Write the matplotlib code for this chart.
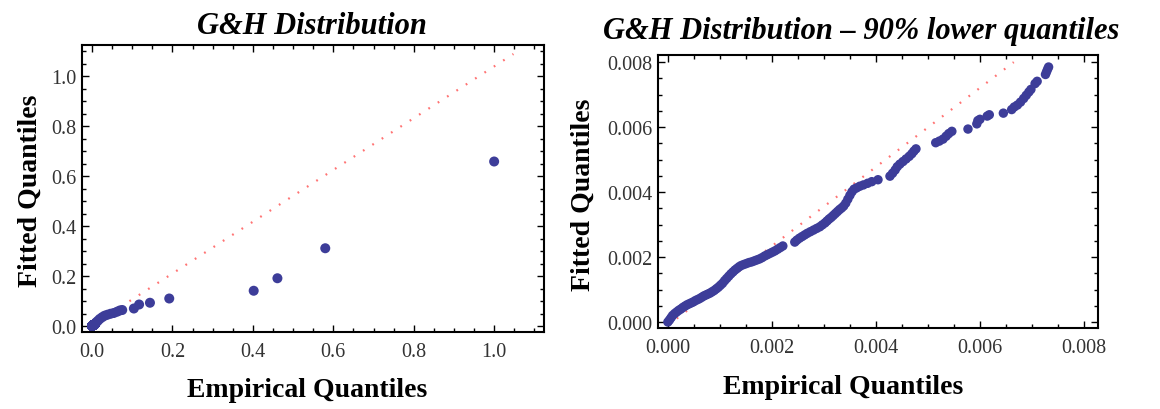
import numpy as np
import matplotlib.pyplot as plt
from matplotlib.ticker import MultipleLocator, FormatStrFormatter

# lower 90% quantiles (right panel)
emp_low = [0.00000, 0.00003, 0.00006, 0.00009, 0.00013, 0.00017, 0.00021, 0.00025, 0.00029, 0.00033,
           0.00037, 0.00041, 0.00045, 0.00049, 0.00053, 0.00057, 0.00061, 0.00065, 0.00069, 0.00073,
           0.00077, 0.00081, 0.00085, 0.00089, 0.00093, 0.00097, 0.00101, 0.00105, 0.00109, 0.00113,
           0.00117, 0.00121, 0.00125, 0.00129, 0.00133, 0.00137, 0.00141, 0.00146, 0.00151, 0.00156,
           0.00161, 0.00166, 0.00171, 0.00176, 0.00181, 0.00186, 0.00191, 0.00196, 0.00201, 0.00206,
           0.00211, 0.00216, 0.00221,
           0.00244, 0.00248, 0.00253, 0.00258, 0.00263, 0.00268, 0.00274, 0.00280, 0.00286, 0.00292,
           0.00297, 0.00302, 0.00306, 0.00310, 0.00314, 0.00318, 0.00322, 0.00326, 0.00330, 0.00334,
           0.00338, 0.00342, 0.00346, 0.00350, 0.00354, 0.00358, 0.00363, 0.00369, 0.00376, 0.00384,
           0.00392, 0.00404,
           0.00427, 0.00432, 0.00437, 0.00441, 0.00446, 0.00452, 0.00458, 0.00464, 0.00469, 0.00473,
           0.00477,
           0.00515, 0.00522, 0.00529, 0.00535, 0.00540, 0.00546,
           0.00577, 0.00594, 0.00596, 0.00600, 0.00614, 0.00618, 0.00645, 0.00661, 0.00666, 0.00672,
           0.00678, 0.00684, 0.00689, 0.00694, 0.00698, 0.00706, 0.00710, 0.00726, 0.00728, 0.00730,
           0.00732]
fit_low = [0.00000, 0.00006, 0.00013, 0.00020, 0.00026, 0.00031, 0.00036, 0.00040, 0.00045, 0.00049,
           0.00053, 0.00056, 0.00059, 0.00062, 0.00066, 0.00069, 0.00072, 0.00076, 0.00080, 0.00083,
           0.00086, 0.00089, 0.00093, 0.00097, 0.00102, 0.00107, 0.00113, 0.00119, 0.00127, 0.00134,
           0.00141, 0.00148, 0.00154, 0.00160, 0.00165, 0.00170, 0.00174, 0.00177, 0.00180, 0.00183,
           0.00185, 0.00188, 0.00191, 0.00194, 0.00198, 0.00203, 0.00207, 0.00211, 0.00215, 0.00219,
           0.00224, 0.00229, 0.00234,
           0.00246, 0.00252, 0.00258, 0.00263, 0.00268, 0.00273, 0.00278, 0.00283, 0.00288, 0.00293,
           0.00299, 0.00305, 0.00311, 0.00317, 0.00322, 0.00328, 0.00334, 0.00340, 0.00346, 0.00351,
           0.00357, 0.00366, 0.00378, 0.00390, 0.00401, 0.00409, 0.00413, 0.00418, 0.00422, 0.00427,
           0.00432, 0.00438,
           0.00449, 0.00458, 0.00468, 0.00478, 0.00486, 0.00494, 0.00502, 0.00510, 0.00518, 0.00526,
           0.00533,
           0.00552, 0.00557, 0.00563, 0.00572, 0.00580, 0.00587,
           0.00594, 0.00610, 0.00620, 0.00624, 0.00634, 0.00638, 0.00643, 0.00654, 0.00662, 0.00668,
           0.00677, 0.00688, 0.00698, 0.00708, 0.00716, 0.00734, 0.00741, 0.00762, 0.00770, 0.00778,
           0.00785]

# upper 10% tail (only in the left panel)
emp_tail = [0.010, 0.014, 0.019, 0.025, 0.031, 0.038, 0.046, 0.054, 0.062, 0.069, 0.075,
            0.104, 0.117, 0.144, 0.192, 0.402, 0.461, 0.580, 1.000]
fit_tail = [0.014, 0.020, 0.028, 0.035, 0.041, 0.045, 0.049, 0.052, 0.057, 0.062, 0.064,
            0.070, 0.086, 0.093, 0.110, 0.141, 0.191, 0.311, 0.658]

# reference lines
ref_left_x = [0.0, 1.048]
ref_left_y = [0.003, 1.088]
ref_right_x = [0.0, 0.00665]
ref_right_y = [-0.0001, 0.0080]

titles = ["G&H Distribution", "G&H Distribution \u2013 90% lower quantiles"]

pt_color = "#3d3d99"
line_color = "#ff5050"
serif = ["Liberation Serif", "DejaVu Serif"]

fig = plt.figure(figsize=(11.6, 4.1), dpi=100)
W, H = 1160, 410

def px_axes(l, t, r, b):
    return fig.add_axes([l / W, 1 - b / H, (r - l) / W, (b - t) / H])

ax1 = px_axes(82, 46, 544, 333)
ax2 = px_axes(658, 56, 1098, 329)

emp_all = emp_low + emp_tail
fit_all = fit_low + fit_tail

ax1.plot(ref_left_x, ref_left_y, color=line_color, lw=1.6, ls=(0, (0.8, 4.2)), alpha=0.8, zorder=1)
ax1.scatter(emp_all, fit_all, s=52, color=pt_color, edgecolors="none", zorder=2)
ax2.plot(ref_right_x, ref_right_y, color=line_color, lw=1.6, ls=(0, (0.8, 4.2)), alpha=0.8, zorder=1)
ax2.scatter(emp_low, fit_low, s=46, color=pt_color, edgecolors="none", zorder=2)

ax1.set_xlim(-0.025, 1.124)
ax1.set_ylim(-0.024, 1.124)
ax2.set_xlim(-0.00019, 0.00827)
ax2.set_ylim(-0.000185, 0.00822)

for ax, major, minor, fmt in [(ax1, 0.2, 0.05, "%.1f"), (ax2, 0.002, 0.0005, "%.3f")]:
    ax.xaxis.set_major_locator(MultipleLocator(major))
    ax.yaxis.set_major_locator(MultipleLocator(major))
    ax.xaxis.set_minor_locator(MultipleLocator(minor))
    ax.yaxis.set_minor_locator(MultipleLocator(minor))
    ax.xaxis.set_major_formatter(FormatStrFormatter(fmt))
    ax.yaxis.set_major_formatter(FormatStrFormatter(fmt))
    ax.tick_params(which="both", direction="in", top=True, right=True, width=1.0, color="black")
    ax.tick_params(which="major", length=5)
    ax.tick_params(which="minor", length=3)
    ax.tick_params(axis="x", pad=7)
    ax.tick_params(axis="y", pad=4)
    for lab in ax.get_xticklabels() + ax.get_yticklabels():
        lab.set_fontfamily(serif)
        lab.set_fontsize(14.5)
        lab.set_color("#333333")
    for sp in ax.spines.values():
        sp.set_linewidth(1.5)

fig.text(312 / W, 1 - 27 / H, titles[0], ha="center", va="center", family=serif,
         fontsize=22, fontweight="bold", fontstyle="italic")
fig.text(861 / W, 1 - 32 / H, titles[1], ha="center", va="center", family=serif,
         fontsize=22, fontweight="bold", fontstyle="italic")
fig.text(307 / W, 1 - 391 / H, "Empirical Quantiles", ha="center", va="center", family=serif,
         fontsize=20, fontweight="bold")
fig.text(843 / W, 1 - 388 / H, "Empirical Quantiles", ha="center", va="center", family=serif,
         fontsize=20, fontweight="bold")
fig.text(30 / W, 1 - 191 / H, "Fitted Quantiles", ha="center", va="center", rotation=90,
         family=serif, fontsize=20, fontweight="bold")
fig.text(583 / W, 1 - 195 / H, "Fitted Quantiles", ha="center", va="center", rotation=90,
         family=serif, fontsize=20, fontweight="bold")

fig.savefig("out.png", dpi=100)
